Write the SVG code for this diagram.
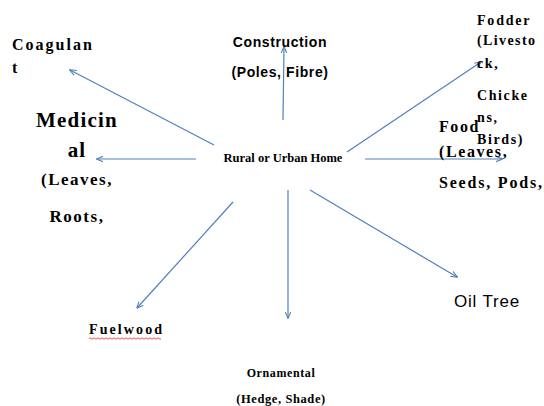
<svg xmlns="http://www.w3.org/2000/svg" width="544" height="406" viewBox="0 0 544 406">
<defs>
<marker id="ah" viewBox="0 0 10 10" refX="9" refY="5" markerWidth="7" markerHeight="7" orient="auto" markerUnits="userSpaceOnUse">
<path d="M0,1 L10,5 L0,9" fill="none" stroke="#4f81bd" stroke-width="1.5"/>
</marker>
<style>
.c{stroke:#4f81bd;stroke-width:1.2;fill:none;marker-end:url(#ah)}
.s{font-family:"Liberation Serif","Times New Roman",serif;font-weight:bold;fill:#000}
.a{font-family:"Liberation Sans",Arial,sans-serif;fill:#000}
</style>
</defs>
<rect width="544" height="406" fill="#fff"/>
<g id="connectors">
<line class="c" x1="283" y1="120" x2="284" y2="47"/>
<line class="c" x1="214" y1="145" x2="70" y2="70"/>
<line class="c" x1="196" y1="159" x2="97" y2="159"/>
<line class="c" x1="365" y1="159" x2="502" y2="159"/>
<line class="c" x1="347" y1="152" x2="481" y2="62"/>
<line class="c" x1="233" y1="202" x2="137" y2="308"/>
<line class="c" x1="288" y1="190" x2="288" y2="318"/>
<line class="c" x1="310" y1="190" x2="457" y2="277"/>
</g>
<g id="home"><text class="s" x="283" y="162" font-size="12.5" text-anchor="middle">Rural or Urban Home</text></g>
<g id="construction">
<text class="a" x="280" y="47" font-size="14" font-weight="bold" letter-spacing="0.6" text-anchor="middle">Construction</text>
<text class="a" x="280" y="77" font-size="14" font-weight="bold" letter-spacing="0.6" text-anchor="middle">(Poles, Fibre)</text>
</g>
<g id="coagulant">
<text class="s" x="12" y="50" font-size="16" letter-spacing="2">Coagulan</text>
<text class="s" x="12" y="73" font-size="16" letter-spacing="2">t</text>
</g>
<g id="medicinal">
<text class="s" x="77" y="127" font-size="21" letter-spacing="1.2" text-anchor="middle">Medicin</text>
<text class="s" x="77" y="157" font-size="21" letter-spacing="1.2" text-anchor="middle">al</text>
<text class="s" x="77" y="185" font-size="17" letter-spacing="1.5" text-anchor="middle">(Leaves,</text>
<text class="s" x="77" y="222" font-size="17" letter-spacing="1.5" text-anchor="middle">Roots,</text>
</g>
<g id="fodder">
<text class="s" x="477" y="25" font-size="14" letter-spacing="1.8">Fodder</text>
<text class="s" x="477" y="45" font-size="14" letter-spacing="1.4">(Livesto</text>
<text class="s" x="477" y="68" font-size="14" letter-spacing="1.6">ck,</text>
<text class="s" x="477" y="100" font-size="14" letter-spacing="1.6">Chicke</text>
<text class="s" x="477" y="122" font-size="14" letter-spacing="1.6">ns,</text>
<text class="s" x="477" y="144" font-size="14" letter-spacing="1.6">Birds)</text>
</g>
<g id="food">
<text class="s" x="439" y="132" font-size="16" letter-spacing="1.6">Food</text>
<text class="s" x="439" y="157" font-size="16" letter-spacing="1.6">(Leaves,</text>
<text class="s" x="439" y="188" font-size="16" letter-spacing="1.8">Seeds, Pods,</text>
</g>
<g id="fuelwood">
<text class="s" x="89" y="334" font-size="14" letter-spacing="2.1">Fuelwood</text>
<path d="M89,338.5 q1,-1.5 2,0 t2,0 t2,0 t2,0 t2,0 t2,0 t2,0 t2,0 t2,0 t2,0 t2,0 t2,0 t2,0 t2,0 t2,0 t2,0 t2,0 t2,0 t2,0 t2,0 t2,0 t2,0 t2,0 t2,0 t2,0 t2,0 t2,0 t2,0 t2,0 t2,0 t2,0 t2,0 t2,0 t2,0 t2,0 t2,0" fill="none" stroke="#e02020" stroke-width="0.8"/>
</g>
<g id="ornamental">
<text class="s" x="281" y="377" font-size="12" letter-spacing="0.6" text-anchor="middle">Ornamental</text>
<text class="s" x="281" y="403" font-size="12.5" letter-spacing="0.6" text-anchor="middle">(Hedge, Shade)</text>
</g>
<g id="oiltree">
<text class="a" x="454" y="307" font-size="17" letter-spacing="0.8">Oil Tree</text>
</g>
</svg>
